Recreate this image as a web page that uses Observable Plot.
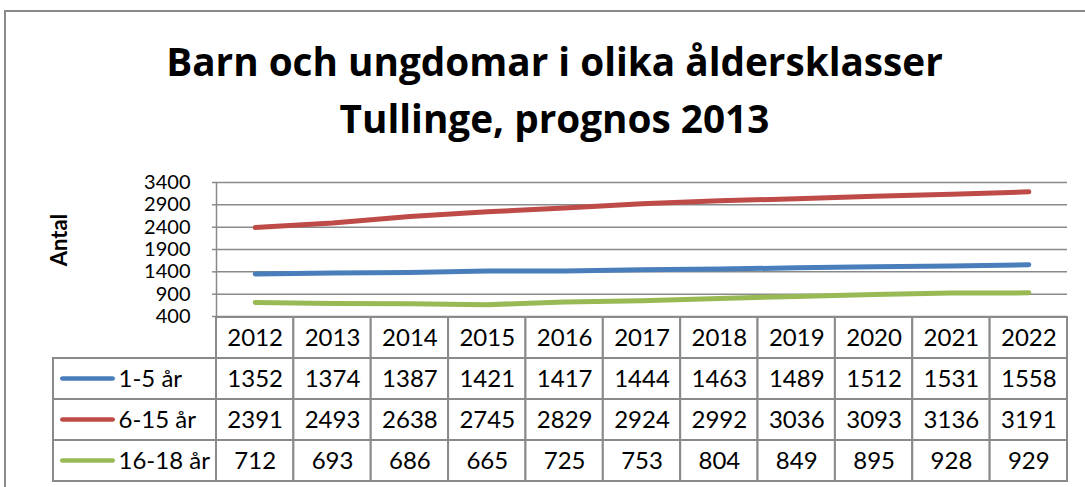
<!DOCTYPE html>
<html>
<head>
<meta charset="utf-8">
<script src="https://cdn.jsdelivr.net/npm/d3@7"></script>
<script src="https://cdn.jsdelivr.net/npm/@observablehq/plot@0.6"></script>
<style>
  html, body { margin: 0; padding: 0; background: #fff; }
  body { width: 1085px; height: 487px; overflow: hidden; position: relative; font-family: Lato, "Open Sans", sans-serif; }
  #frame { position: absolute; left: 4px; top: 10px; width: 1200px; height: 600px; border: 2px solid #8a8a8a; box-sizing: border-box; }
  .title { position: absolute; left: 12px; width: 1085px; text-align: center; font-family: "Open Sans", Lato, sans-serif; font-weight: bold; font-size: 36px; line-height: 1; color: #000; white-space: nowrap; }
  #ylab { position: absolute; left: 58px; top: 240px; transform: translate(-50%, -50%) rotate(-90deg); font-weight: bold; font-size: 22px; }
  #chart { position: absolute; left: 0; top: 170px; }
  #table { position: absolute; left: 0; top: 316px; }
</style>
</head>
<body>
<div id="frame"></div>
<div class="title" id="t1"></div>
<div class="title" id="t2"></div>
<div id="table"></div>
<div id="chart"></div>
<div id="ylab"></div>
<script>
// ---- data ----
const titleLines = ["Barn och ungdomar i olika åldersklasser", "Tullinge, prognos 2013"];
const years = [2012, 2013, 2014, 2015, 2016, 2017, 2018, 2019, 2020, 2021, 2022];
const seriesNames = ["1-5 år", "6-15 år", "16-18 år"];
const values1to5 = [1352, 1374, 1387, 1421, 1417, 1444, 1463, 1489, 1512, 1531, 1558];
const values6to15 = [2391, 2493, 2638, 2745, 2829, 2924, 2992, 3036, 3093, 3136, 3191];
const values16to18 = [712, 693, 686, 665, 725, 753, 804, 849, 895, 928, 929];
const yTicks = [400, 900, 1400, 1900, 2400, 2900, 3400];
const yLabel = "Antal";
const colors = ["#4a7ebb", "#be4b48", "#98b954"];

// ---- title (sized to the reference width) ----
(function () {
  const ctx = document.createElement("canvas").getContext("2d");
  ctx.font = "bold 100px 'Open Sans'";
  const w = ctx.measureText(titleLines[0]).width;
  const size = Math.max(30, Math.min(44, 100 * 777 / w));
  const baselineOffset = size * (1 + 1.069 - 0.293) / 2; // line-height 1, Open Sans metrics
  const baselines = [76, 133];
  ["t1", "t2"].forEach((id, i) => {
    const el = document.getElementById(id);
    el.textContent = titleLines[i];
    el.style.fontSize = size + "px";
    el.style.top = (baselines[i] - baselineOffset) + "px";
  });
})();

// ---- build rows ----
const seriesValues = [values1to5, values6to15, values16to18];
const points = [];
seriesNames.forEach((name, s) => {
  years.forEach((yr, i) => points.push({series: name, year: yr, value: seriesValues[s][i]}));
});

const W = 1085;
const plotLeft = 216, plotRight = 1067, tableLeft = 53;
const colW = (plotRight - plotLeft) / years.length;
const xMin = years[0] - 0.5, xMax = years[years.length - 1] + 0.5;
const xTableMin = xMin - (plotLeft - tableLeft) / colW;
const px = (p) => p / colW; // pixel length -> x units

const gridColor = "#8a8a8a";
const fontFam = "Lato, 'Open Sans', sans-serif";

// ---- line chart ----
const chart = Plot.plot({
  width: W,
  height: 160,
  marginLeft: plotLeft,
  marginRight: W - plotRight,
  marginTop: 12,
  marginBottom: 14,
  style: {background: "transparent", fontFamily: fontFam, overflow: "visible"},
  x: {type: "linear", domain: [xMin, xMax], axis: null},
  y: {domain: [yTicks[0], yTicks[yTicks.length - 1]], axis: null},
  color: {domain: seriesNames, range: colors},
  marks: [
    Plot.ruleY(yTicks, {stroke: gridColor, strokeWidth: 1.5}),
    Plot.ruleX([xMin], {stroke: gridColor, strokeWidth: 1.5}),
    Plot.axisY({ticks: yTicks, label: null, tickSize: 4, tickPadding: 22, stroke: gridColor, fill: "#000", fontSize: 20, tickFormat: d => String(d), strokeWidth: 1.5}),
    Plot.line(points, {x: "year", y: "value", stroke: "series", z: "series", strokeWidth: 5, strokeLinecap: "round", strokeLinejoin: "round"})
  ]
});
document.getElementById("chart").appendChild(chart);

// ---- data table ----
const rowKeys = ["hdr", ...seriesNames];
const cells = [];
years.forEach((yr) => cells.push({row: "hdr", year: yr, text: String(yr)}));
seriesNames.forEach((name, s) => years.forEach((yr, i) => cells.push({row: name, year: yr, text: String(seriesValues[s][i])})));
const legendCells = seriesNames.map((name, s) => ({row: name, name, color: colors[s]}));

const rowH = 41.5;
const tableH = rowH * rowKeys.length + 2;
const table = Plot.plot({
  width: W,
  height: tableH,
  marginLeft: tableLeft,
  marginRight: W - plotRight,
  marginTop: 0,
  marginBottom: 2,
  style: {background: "transparent", fontFamily: fontFam},
  x: {type: "linear", domain: [xTableMin, xMax], axis: null},
  y: {type: "band", domain: rowKeys, padding: 0, axis: null},
  marks: [
    Plot.barX(cells, {x1: d => d.year - 0.5, x2: d => d.year + 0.5, y: "row", fill: "#fff", stroke: gridColor, strokeWidth: 2}),
    Plot.barX(legendCells, {x1: xTableMin, x2: xMin, y: "row", fill: "#fff", stroke: gridColor, strokeWidth: 2}),
    Plot.barX(legendCells, {x1: xTableMin + px(7), x2: xTableMin + px(62), y: "row", fill: d => d.color, insetTop: (rowH - 5) / 2, insetBottom: (rowH - 5) / 2, rx: 2.5}),
    Plot.text(legendCells, {x: xTableMin + px(65), y: "row", text: "name", textAnchor: "start", fontSize: 24, fill: "#000"}),
    Plot.text(cells, {x: "year", y: "row", text: "text", fontSize: 24, fill: "#000"})
  ]
});
document.getElementById("table").appendChild(table);
document.getElementById("ylab").textContent = yLabel;
</script>
</body>
</html>
